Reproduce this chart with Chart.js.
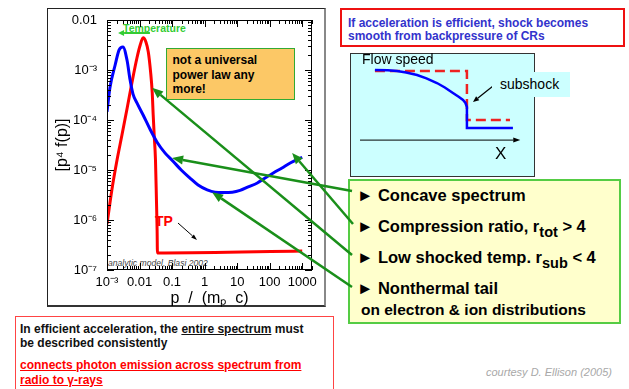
<!DOCTYPE html>
<html lang="en">
<head>
<meta charset="utf-8">
<title>Efficient shock acceleration</title>
<script src="https://cdn.jsdelivr.net/npm/chart.js@4.4.1/dist/chart.umd.min.js"></script>
<style>
  body { margin: 0; width: 629px; height: 389px; position: relative; overflow: hidden; background: #fff;
         font-family: 'Liberation Sans', Arial, sans-serif; color: #000; }
  .abs { position: absolute; white-space: nowrap; }
  #plot-frame { left: 47px; top: 8px; width: 276px; height: 296px; border: 1px solid #222; border-right: 2px solid #888; border-bottom: 2px solid #333; }
  #power-law { left: 166px; top: 48px; width: 129px; height: 52px; box-sizing: border-box; background: #fcc866;
               border: 1.5px solid #33aa33; font-weight: bold; font-size: 12px; line-height: 14.5px; padding: 4px 0 0 5.5px; }
  #temperature { left: 123px; top: 22px; font-size: 10.5px; line-height: 12px; font-weight: bold; color: #33cc33; }
  #tp { left: 155px; top: 213px; font-size: 14px; line-height: 16px; font-weight: bold; color: #ff0000; }
  #blasi { left: 108px; top: 258px; font-size: 8.6px; line-height: 10px; font-style: italic; color: #444; }
  #smooth-note { left: 340px; top: 8px; width: 285px; height: 39px; box-sizing: border-box; border: 2px solid #ee1111;
                 font-weight: bold; font-size: 12px; line-height: 13px; color: #3333cc; padding: 7px 0 0 6px; }
  #flow-box { left: 350px; top: 53px; width: 185px; height: 124px; box-sizing: border-box; background: #ccffff; border: 1px solid #333; }
  #flow { position: absolute; left: 351px; top: 54px; z-index: 2; }
  #flow-title { left: 362px; top: 51px; font-size: 14px; line-height: 16px; z-index: 3; }
  #flow-x { left: 495px; top: 144px; font-size: 17px; line-height: 20px; z-index: 3; }
  #subshock { left: 492px; top: 72px; width: 78px; height: 25px; box-sizing: border-box; background: #ccffff;
              font-size: 14px; line-height: 25px; padding-left: 8px; z-index: 3; }
  #results { left: 348px; top: 179px; width: 273px; height: 145px; box-sizing: border-box; background: #ffffcc; border: 2px solid #55cc44; }
  .bullet { left: 357px; font-size: 16.5px; line-height: 20px; font-weight: bold; }
  .bullet .sub { font-size: 14.5px; position: relative; top: 5px; }
  #tail-note { left: 361px; top: 300px; font-size: 15.5px; line-height: 20px; font-weight: bold; }
  #consistency { left: 15px; top: 316px; width: 319px; height: 80px; box-sizing: border-box; border: 1.5px solid #ff4444; background: #fff; }
  .line { left: 20px; font-size: 12px; line-height: 14px; font-weight: bold; color: #111; }
  .line.red { color: #ff0000; text-decoration: underline; }
  #courtesy { left: 486px; top: 365px; font-size: 11px; line-height: 14px; font-style: italic; color: #a8a8a8; }
  #spectrum { position: absolute; left: 0; top: 0; z-index: 5; }
</style>
</head>
<body>
<div id="plot-frame" class="abs"></div>
<div id="power-law" class="abs">not a universal<br>power law any<br>more!</div>
<div id="temperature" class="abs">Temperature</div>
<div id="tp" class="abs">TP</div>
<div id="blasi" class="abs">analytic model, Blasi 2002</div>

<div id="smooth-note" class="abs">If acceleration is efficient, shock becomes<br>smooth from backpressure of CRs</div>

<div id="flow-box" class="abs"></div>
<canvas id="flow" width="184" height="123"></canvas>
<div id="flow-title" class="abs">Flow speed</div>
<div id="flow-x" class="abs">X</div>
<div id="subshock" class="abs">subshock</div>

<div id="results" class="abs"></div>
<div class="abs bullet" style="top:185px">► Concave spectrum</div>
<div class="abs bullet" style="top:216px">► Compression ratio, r<span class="sub">tot</span> &gt; 4</div>
<div class="abs bullet" style="top:247px">► Low shocked temp. r<span class="sub">sub</span> &lt; 4</div>
<div class="abs bullet" style="top:278px">► Nonthermal tail</div>
<div id="tail-note" class="abs">on electron &amp; ion distributions</div>

<div id="consistency" class="abs"></div>
<div class="abs line" style="top:322px">In efficient acceleration, the <u>entire spectrum</u> must</div>
<div class="abs line" style="top:336px">be described consistently</div>
<div class="abs line red" style="top:358px">connects photon emission across spectrum from</div>
<div class="abs line red" style="top:373px">radio to γ-rays</div>
<div id="courtesy" class="abs">courtesy D. Ellison (2005)</div>

<canvas id="spectrum" width="629" height="389"></canvas>

<script>
// Spectrum p^4 f(p) against p/(m_p c)
const blueMomentum = [0.001, 0.00123, 0.00178, 0.00234, 0.00309, 0.00412, 0.00513, 0.00631, 0.00832, 0.0129,
  0.0209, 0.0347, 0.0603, 0.107, 0.191, 0.355, 0.631, 1.2, 2.09, 3.72, 7.08, 12.3, 21.9, 41.7, 72.4, 129, 240, 427, 1000];
const blueSpectrum = [1.45e-4, 4.4e-4, 1.26e-3, 2.5e-3, 2.9e-3, 1.58e-3, 6.3e-4, 3.3e-4, 2.2e-4, 1.26e-4,
  6.6e-5, 3.6e-5, 2.2e-5, 1.5e-5, 1.0e-5, 6.9e-6, 5.0e-6, 4.0e-6, 3.6e-6, 3.55e-6, 3.6e-6, 3.9e-6, 4.6e-6, 5.5e-6, 6.9e-6, 8.7e-6, 1.1e-5, 1.38e-5, 1.8e-5];

const redMomentum = [0.001, 0.00141, 0.00204, 0.00288, 0.00417, 0.00589, 0.00832, 0.0105, 0.0129, 0.0158,
  0.0186, 0.0219, 0.0245, 0.0263, 0.0282, 0.0309, 0.0331, 0.0347, 0.0355, 0.0603, 1000];
const redSpectrum = [8.3e-7, 4.0e-6, 1.6e-5, 5.0e-5, 1.74e-4, 5.75e-4, 1.74e-3, 3.16e-3, 4.4e-3, 3.6e-3,
  2.3e-3, 9.1e-4, 3.6e-4, 1.26e-4, 5.0e-5, 1.6e-5, 2.5e-6, 6.3e-7, 2.2e-7, 2.2e-7, 2.4e-7];

const xTickValues = [0.001, 0.01, 0.1, 1, 10, 100, 1000];
const xTickLabels = ['10⁻³', '0.01', '0.1', '1', '10', '100', '1000'];
const yTickValues = [1e-7, 1e-6, 1e-5, 1e-4, 1e-3, 1e-2];
const yTickLabels = ['10⁻⁷', '10⁻⁶', '10⁻⁵', '10⁻⁴', '10⁻³', '0.01'];

// Flow speed sketch (inset), arbitrary units
const flowX = [1.30, 2.0, 2.5, 3.0, 3.59, 4.1, 4.67, 5.1, 5.54, 5.85, 6.09, 6.22, 6.30, 6.30, 8.80];
const flowSmooth = [8.70, 8.68, 8.62, 8.50, 8.29, 8.02, 7.64, 7.28, 6.83, 6.52, 6.26, 6.02, 5.69, 3.98, 3.98];
const stepX = [1.30, 6.30, 6.30, 8.64];
const stepSpeed = [8.62, 8.62, 4.63, 4.63];

const family = "'Liberation Sans', Arial, sans-serif";

function drawArrow(ctx, x0, y0, x1, y1, color, width, headLen, headWidth) {
  const ang = Math.atan2(y1 - y0, x1 - x0);
  const bx = x1 - headLen * Math.cos(ang);
  const by = y1 - headLen * Math.sin(ang);
  ctx.strokeStyle = color;
  ctx.fillStyle = color;
  ctx.lineWidth = width;
  ctx.beginPath();
  ctx.moveTo(x0, y0);
  ctx.lineTo(bx, by);
  ctx.stroke();
  ctx.beginPath();
  ctx.moveTo(x1, y1);
  ctx.lineTo(bx + headWidth / 2 * Math.sin(ang), by - headWidth / 2 * Math.cos(ang));
  ctx.lineTo(bx - headWidth / 2 * Math.sin(ang), by + headWidth / 2 * Math.cos(ang));
  ctx.closePath();
  ctx.fill();
}

// Green pointers from the bullet list to the curves
const pointers = [
  { p: 0.1, f: 1.74e-5, tail: [352, 191] },   // Concave spectrum
  { p: 490, f: 2.2e-5, tail: [353, 224] },    // Compression ratio
  { p: 0.0243, f: 4.4e-4, tail: [352, 255] }, // Low shocked temp.
  { p: 1.7, f: 3.6e-6, tail: [352, 287] }     // Nonthermal tail
];

// Inward IDL style ticks on all four sides + annotations
const framePlugin = {
  id: 'framePlugin',
  afterDraw(chart) {
    const { ctx, chartArea: a, scales: { x, y } } = chart;
    ctx.save();
    ctx.strokeStyle = '#000';
    ctx.lineWidth = 1;
    ctx.strokeRect(a.left + 0.5, a.top + 0.5, a.right - a.left - 1, a.bottom - a.top - 1);
    ctx.beginPath();
    for (let e = -3; e <= 3; e++) {
      for (let k = 1; k <= 9; k++) {
        const v = k * Math.pow(10, e);
        if (v < x.min || v > x.max) continue;
        const px = Math.round(x.getPixelForValue(v)) + 0.5;
        const len = k === 1 ? 7 : 4;
        ctx.moveTo(px, a.bottom); ctx.lineTo(px, a.bottom - len);
        ctx.moveTo(px, a.top); ctx.lineTo(px, a.top + len);
      }
    }
    for (let e = -7; e <= -3; e++) {
      for (let k = 1; k <= 9; k++) {
        const v = k * Math.pow(10, e);
        if (v < y.min || v > y.max) continue;
        const py = Math.round(y.getPixelForValue(v)) + 0.5;
        const len = k === 1 ? 7 : 4;
        ctx.moveTo(a.left, py); ctx.lineTo(a.left + len, py);
        ctx.moveTo(a.right, py); ctx.lineTo(a.right - len, py);
      }
    }
    ctx.stroke();

    // Temperature arrow
    drawArrow(ctx, x.getPixelForValue(0.0209), y.getPixelForValue(0.0055),
      x.getPixelForValue(0.00219), y.getPixelForValue(0.0055), '#33cc33', 2, 6, 6);
    // TP arrow
    drawArrow(ctx, x.getPixelForValue(0.152), y.getPixelForValue(8.7e-7),
      x.getPixelForValue(0.585), y.getPixelForValue(4.0e-7), '#000', 1, 6, 4);

    pointers.forEach(ptr => {
      drawArrow(ctx, ptr.tail[0], ptr.tail[1], x.getPixelForValue(ptr.p), y.getPixelForValue(ptr.f),
        '#1a8f1a', 2.5, 11, 9);
    });
    ctx.restore();
  }
};

const spectrumChart = new Chart(document.getElementById('spectrum'), {
  type: 'line',
  data: {
    datasets: [
      {
        label: 'efficient',
        data: blueMomentum.map((p, i) => ({ x: p, y: blueSpectrum[i] })),
        borderColor: '#0000ff',
        borderWidth: 3,
        pointRadius: 0,
        cubicInterpolationMode: 'monotone'
      },
      {
        label: 'test particle',
        data: redMomentum.map((p, i) => ({ x: p, y: redSpectrum[i] })),
        borderColor: '#ff0000',
        borderWidth: 3,
        pointRadius: 0,
        cubicInterpolationMode: 'monotone'
      }
    ]
  },
  options: {
    responsive: false,
    animation: false,
    layout: { padding: { left: 53, right: 317, top: 20, bottom: 81 } },
    plugins: { legend: { display: false }, tooltip: { enabled: false } },
    scales: {
      x: {
        type: 'logarithmic',
        min: 0.001,
        max: 2000,
        grid: { display: false, drawTicks: false },
        border: { display: false },
        afterBuildTicks: s => { s.ticks = xTickValues.map(v => ({ value: v })); },
        afterFit: s => { s.height = 38; s.paddingLeft = 0; s.paddingRight = 0; },
        ticks: {
          autoSkip: false, maxRotation: 0, padding: 5, color: '#000',
          font: { family, size: 13 },
          callback: (v, i) => xTickLabels[i]
        },
        title: { display: true, text: 'p  /  (mₚ  c)', color: '#000', font: { family, size: 16 }, padding: 0 }
      },
      y: {
        type: 'logarithmic',
        min: 1e-7,
        max: 1e-2,
        grid: { display: false, drawTicks: false },
        border: { display: false },
        afterBuildTicks: s => { s.ticks = yTickValues.map(v => ({ value: v })); },
        afterFit: s => { s.width = 54; s.paddingTop = 0; s.paddingBottom = 0; },
        ticks: {
          autoSkip: false, padding: 10, color: '#000',
          font: { family, size: 13 },
          callback: (v, i) => yTickLabels[i]
        },
        title: { display: true, text: '[p⁴ f(p)]', color: '#000', font: { family, size: 16 }, padding: 0 }
      }
    }
  },
  plugins: [framePlugin]
});

// Inset: x axis arrow and subshock pointer
const insetPlugin = {
  id: 'insetPlugin',
  afterDraw(chart) {
    const { ctx, scales: { x, y } } = chart;
    ctx.save();
    drawArrow(ctx, x.getPixelForValue(0.49), y.getPixelForValue(3.0), x.getPixelForValue(9.2), y.getPixelForValue(3.0),
      '#000', 1, 7, 5);
    drawArrow(ctx, x.getPixelForValue(7.72), y.getPixelForValue(7.40), x.getPixelForValue(6.63), y.getPixelForValue(6.10),
      '#000', 1.2, 6, 5);
    ctx.restore();
  }
};

const flowChart = new Chart(document.getElementById('flow'), {
  type: 'line',
  data: {
    datasets: [
      {
        label: 'smooth shock',
        data: flowX.map((v, i) => ({ x: v, y: flowSmooth[i] })),
        borderColor: '#0000ff',
        borderWidth: 2.5,
        pointRadius: 0,
        tension: 0
      },
      {
        label: 'test particle shock',
        data: stepX.map((v, i) => ({ x: v, y: stepSpeed[i] })),
        borderColor: '#ee2222',
        borderWidth: 2.5,
        borderDash: [10, 5],
        pointRadius: 0,
        tension: 0
      }
    ]
  },
  options: {
    responsive: false,
    animation: false,
    layout: { padding: 0 },
    plugins: { legend: { display: false }, tooltip: { enabled: false } },
    scales: {
      x: { type: 'linear', min: 0, max: 10, display: false },
      y: { type: 'linear', min: 0, max: 10, display: false }
    }
  },
  plugins: [insetPlugin]
});
</script>
</body>
</html>
